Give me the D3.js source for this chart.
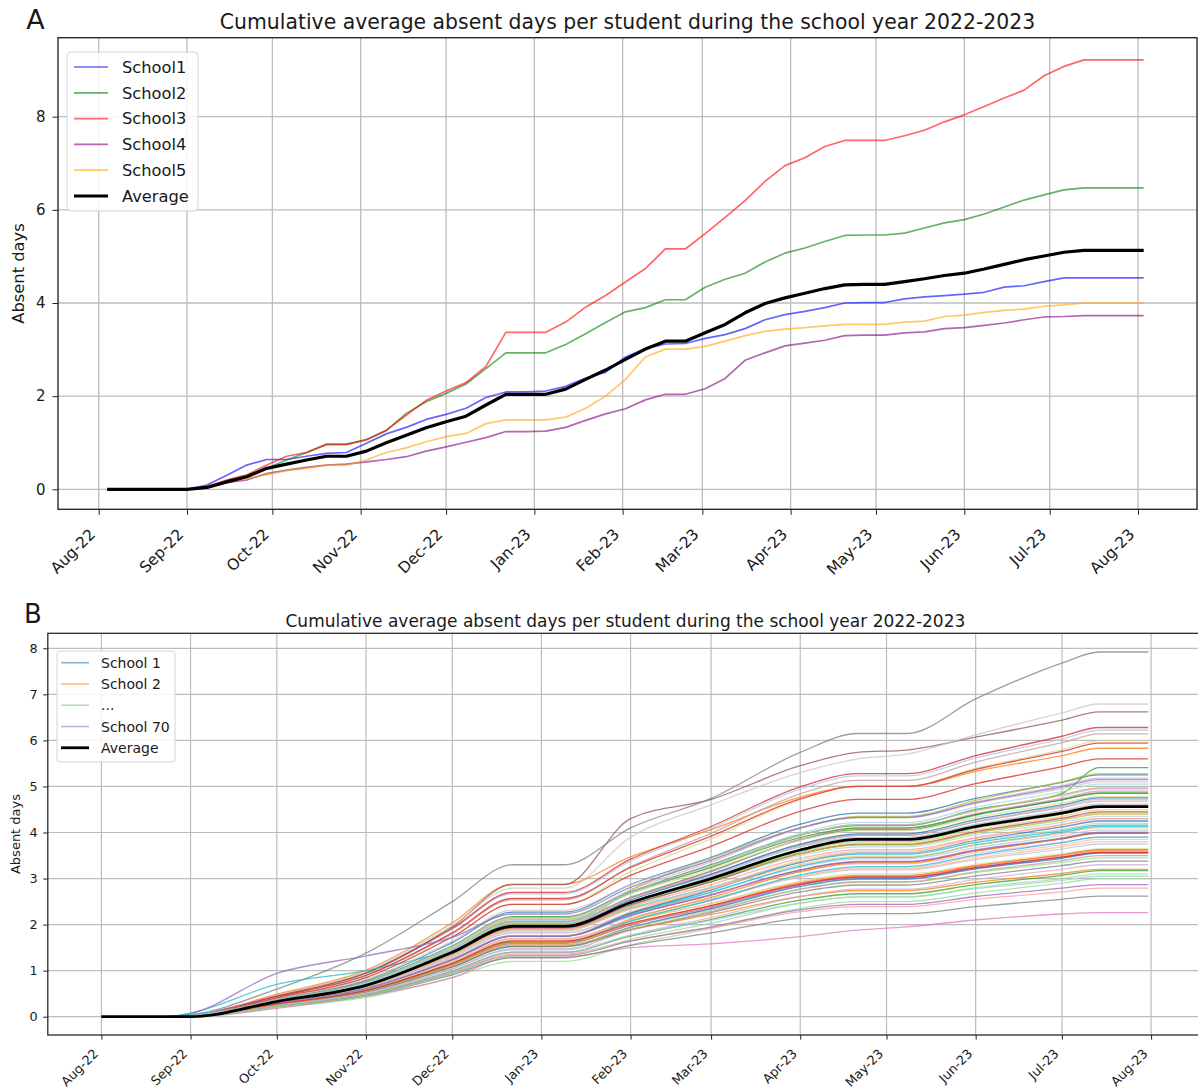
<!DOCTYPE html>
<html><head><meta charset="utf-8">
<script src="https://cdn.jsdelivr.net/npm/d3@7"></script>
<style>
body{margin:0;background:#fff}
svg{display:block}
text{font-family:"DejaVu Sans",sans-serif;fill:#1a1a1a}
</style>
</head><body>
<svg id="c" width="1198" height="1091"></svg>
<script>
// ---------------- DATA ----------------
const monthTicks = ["2022-08-01","2022-09-01","2022-10-01","2022-11-01","2022-12-01","2023-01-01","2023-02-01","2023-03-01","2023-04-01","2023-05-01","2023-06-01","2023-07-01","2023-08-01"];
const yTicksA = [0,2,4,6,8];
const yTicksB = [0,1,2,3,4,5,6,7,8];

// Panel A: weekly observations
const weeksA = ["2022-08-04","2022-08-11","2022-08-18","2022-08-25","2022-09-01","2022-09-08","2022-09-15","2022-09-22","2022-09-29","2022-10-06","2022-10-13","2022-10-20","2022-10-27","2022-11-03","2022-11-10","2022-11-17","2022-11-24","2022-12-01","2022-12-08","2022-12-15","2022-12-22","2022-12-29","2023-01-05","2023-01-12","2023-01-19","2023-01-26","2023-02-02","2023-02-09","2023-02-16","2023-02-23","2023-03-02","2023-03-09","2023-03-16","2023-03-23","2023-03-30","2023-04-06","2023-04-13","2023-04-20","2023-04-27","2023-05-04","2023-05-11","2023-05-18","2023-05-25","2023-06-01","2023-06-08","2023-06-15","2023-06-22","2023-06-29","2023-07-06","2023-07-13","2023-07-20","2023-07-27","2023-08-03"];
const namesA = ["School1","School2","School3","School4","School5","Average"];
const school1A = [0,0,0,0,0,0.09,0.3,0.52,0.64,0.64,0.71,0.77,0.79,0.99,1.19,1.33,1.5,1.61,1.74,1.97,2.09,2.09,2.11,2.21,2.39,2.51,2.84,3.02,3.12,3.13,3.24,3.32,3.45,3.64,3.75,3.82,3.9,4.0,4.01,4.01,4.09,4.13,4.16,4.19,4.23,4.34,4.37,4.46,4.54,4.54,4.54,4.54,4.54];
const school2A = [0,0,0,0,0,0.04,0.19,0.29,0.45,0.63,0.79,0.97,0.97,1.07,1.26,1.63,1.88,2.06,2.26,2.59,2.93,2.93,2.93,3.11,3.34,3.58,3.81,3.9,4.07,4.07,4.34,4.51,4.64,4.88,5.07,5.18,5.32,5.45,5.46,5.46,5.5,5.61,5.72,5.79,5.91,6.06,6.21,6.32,6.43,6.47,6.47,6.47,6.47];
const school3A = [0,0,0,0,0,0.06,0.2,0.31,0.52,0.71,0.79,0.96,0.96,1.06,1.27,1.59,1.91,2.11,2.29,2.64,3.37,3.37,3.37,3.59,3.91,4.16,4.45,4.74,5.16,5.16,5.49,5.84,6.2,6.61,6.95,7.12,7.36,7.49,7.49,7.49,7.59,7.71,7.89,8.04,8.22,8.4,8.57,8.88,9.08,9.22,9.22,9.22,9.22];
const school4A = [0,0,0,0,0,0.03,0.14,0.2,0.34,0.41,0.47,0.52,0.54,0.59,0.64,0.7,0.82,0.91,1.01,1.11,1.24,1.24,1.25,1.33,1.48,1.62,1.73,1.92,2.04,2.04,2.16,2.38,2.77,2.93,3.08,3.14,3.2,3.3,3.31,3.31,3.36,3.38,3.45,3.47,3.52,3.57,3.64,3.7,3.71,3.73,3.73,3.73,3.73];
const school5A = [0,0,0,0,0,0.03,0.16,0.24,0.31,0.4,0.45,0.52,0.52,0.63,0.79,0.89,1.02,1.13,1.2,1.41,1.49,1.49,1.49,1.55,1.74,2.0,2.36,2.84,3.01,3.01,3.07,3.18,3.3,3.39,3.44,3.47,3.51,3.54,3.54,3.54,3.59,3.61,3.71,3.74,3.8,3.84,3.87,3.93,3.96,4.0,4.0,4.0,4.0];
const averageA = [0,0,0,0,0,0.04,0.16,0.27,0.45,0.54,0.63,0.71,0.71,0.82,1.0,1.16,1.32,1.45,1.57,1.81,2.04,2.04,2.04,2.15,2.36,2.56,2.79,3.01,3.18,3.18,3.36,3.54,3.79,3.99,4.11,4.21,4.31,4.39,4.4,4.4,4.46,4.52,4.59,4.64,4.73,4.83,4.93,5.01,5.09,5.13,5.13,5.13,5.13];

// Panel B: 70 schools, values at checkpoint dates
const datesB = ["2022-08-01","2022-08-24","2022-09-01","2022-10-01","2022-11-01","2022-12-01","2022-12-22","2023-01-09","2023-02-01","2023-03-01","2023-04-01","2023-04-21","2023-05-08","2023-06-01","2023-07-01","2023-07-14","2023-07-31"];
const averageB = [0,0,0,0.33,0.68,1.4,1.96,1.96,2.48,3.0,3.62,3.85,3.85,4.13,4.42,4.56,4.56];
const schoolsB = [
[0,0,.02,.39,.79,1.61,2.27,2.27,2.87,3.46,4.18,4.42,4.42,4.74,5.09,5.25,5.25],
[0,0,.03,.45,.93,1.9,2.67,2.67,3.38,4.09,4.94,5.23,5.23,5.62,6.03,6.22,6.22],
[0,0,.02,.49,1.01,2.04,2.88,2.88,3.47,4.06,4.77,5.0,5.0,5.33,5.67,5.83,5.83],
[0,0,.01,.33,.68,1.37,1.93,1.93,2.44,2.95,3.57,3.77,3.77,4.05,4.35,4.49,4.49],
[0,0,.02,.35,.72,1.47,2.07,2.07,2.7,3.3,3.95,4.15,4.15,4.5,4.85,5.41,5.41],
[0,0,0,.2,.42,.85,1.2,1.2,1.56,1.92,2.35,2.5,2.5,2.69,2.9,3.0,3.0],
[0,0,.03,.46,.95,1.92,2.7,2.7,3.42,4.13,4.99,5.28,5.28,5.67,6.09,6.28,6.28],
[0,0,.01,.23,.48,.97,1.36,1.36,1.65,1.93,2.28,2.39,2.39,2.55,2.71,2.79,2.79],
[0,0,.01,.27,.56,1.13,1.59,1.59,1.99,2.38,2.86,3.02,3.02,3.23,3.46,3.57,3.57],
[0,0,.02,.36,.75,1.52,2.14,2.14,2.75,3.36,4.09,4.33,4.33,4.66,5.02,5.18,5.18],
[0,0,.03,.45,.95,1.95,2.87,2.87,4.3,4.72,5.45,5.74,5.79,6.07,6.44,6.62,6.62],
[0,0,.02,.43,.89,1.8,2.54,2.54,3.26,3.98,4.84,5.13,5.13,5.53,5.95,6.14,6.14],
[0,0,.01,.26,.53,1.08,1.52,1.52,1.94,2.36,2.87,3.04,3.04,3.27,3.52,3.63,3.63],
[0,0,.02,.33,.69,1.39,1.96,1.96,2.45,2.94,3.53,3.73,3.73,4.0,4.29,4.42,4.42],
[0,0,.04,.6,1.38,2.5,3.3,3.3,4.1,4.74,5.74,6.15,6.15,6.9,7.68,7.92,7.92],
[0,0,.03,.47,.98,1.98,2.79,2.79,3.9,4.6,5.3,5.6,5.7,6.12,6.6,6.79,6.79],
[0,0,.01,.32,.68,1.37,1.93,1.93,2.75,3.45,4.1,4.35,4.35,4.7,5.1,5.28,5.28],
[0,0,.02,.41,.85,1.73,2.44,2.44,3.15,3.86,4.71,5.0,5.0,5.39,5.8,5.99,5.99],
[0,0,.08,.7,1.0,1.45,1.91,1.91,2.36,2.81,3.35,3.53,3.53,3.78,4.04,4.16,4.16],
[0,0,.05,.34,.69,1.41,1.98,1.98,2.45,2.93,3.5,3.69,3.69,3.95,4.22,4.35,4.35],
[0,0,.01,.26,.54,1.09,1.54,1.54,1.94,2.34,2.83,2.99,2.99,3.21,3.44,3.55,3.55],
[0,0,.02,.31,.64,1.29,1.82,1.82,2.27,2.71,3.25,3.43,3.43,3.67,3.93,4.05,4.05],
[0,0,.01,.27,.55,1.11,1.56,1.56,1.89,2.22,2.61,2.74,2.74,2.92,3.11,3.2,3.2],
[0,0,.01,.3,.62,1.25,1.76,1.76,2.27,2.78,3.39,3.59,3.59,3.87,4.16,4.3,4.3],
[0,0,.02,.34,.71,1.43,2.02,2.02,2.59,3.16,3.84,4.06,4.06,4.38,4.71,4.86,4.86],
[0,0,0,.26,.54,1.1,1.55,1.55,1.93,2.31,2.77,2.92,2.92,3.13,3.35,3.45,3.45],
[0,0,.03,.44,.9,1.82,2.57,2.57,3.24,3.92,4.73,5.0,5.0,5.37,5.76,5.94,5.94],
[0,0,.02,.35,.72,1.47,2.07,2.07,2.58,3.08,3.69,3.89,3.89,4.17,4.46,4.6,4.6],
[0,0,0,.23,.47,.94,1.33,1.33,1.64,1.95,2.32,2.44,2.44,2.61,2.79,2.87,2.87],
[0,0,.02,.33,.67,1.36,1.92,1.92,2.48,3.04,3.71,3.94,3.94,4.24,4.57,4.72,4.72],
[0,0,.01,.3,.61,1.24,1.75,1.75,2.2,2.64,3.18,3.36,3.36,3.6,3.86,3.98,3.98],
[0,0,.02,.35,.72,1.46,2.05,2.05,2.58,3.1,3.73,3.94,3.94,4.23,4.54,4.68,4.68],
[0,0,.01,.34,.7,1.41,1.99,1.99,2.57,3.15,3.85,4.09,4.09,4.41,4.74,4.9,4.9],
[0,0,.02,.31,.64,1.29,1.82,1.82,2.24,2.65,3.15,3.32,3.32,3.55,3.79,3.9,3.9],
[0,0,.01,.26,.53,1.08,1.52,1.52,1.89,2.26,2.71,2.86,2.86,3.06,3.28,3.38,3.38],
[0,0,.03,.39,.81,1.64,2.31,2.31,2.87,3.43,4.1,4.32,4.32,4.63,4.95,5.1,5.1],
[0,0,.02,.36,.74,1.5,2.11,2.11,2.68,3.25,3.94,4.17,4.17,4.48,4.82,4.97,4.97],
[0,0,.02,.36,.75,1.52,2.14,2.14,2.67,3.2,3.83,4.04,4.04,4.33,4.64,4.78,4.78],
[0,0,.04,.3,.61,1.24,1.75,1.75,2.23,2.7,3.27,3.46,3.46,3.73,4.0,4.13,4.13],
[0,0,.03,.36,.73,1.48,2.09,2.09,2.68,3.27,3.98,4.22,4.22,4.55,4.89,5.05,5.05],
[0,0,.02,.3,.61,1.24,1.75,1.75,2.25,2.75,3.35,3.55,3.55,3.83,4.12,4.25,4.25],
[0,0,.02,.3,.62,1.25,1.76,1.76,2.16,2.56,3.03,3.19,3.19,3.41,3.64,3.75,3.75],
[0,0,.01,.28,.58,1.17,1.65,1.65,2.12,2.59,3.15,3.34,3.34,3.6,3.87,4.0,4.0],
[0,0,.01,.29,.59,1.19,1.68,1.68,2.1,2.53,3.04,3.21,3.21,3.44,3.69,3.8,3.8],
[0,0,.01,.24,.49,.99,1.4,1.4,1.75,2.11,2.53,2.67,2.67,2.87,3.07,3.17,3.17],
[0,0,.01,.32,.65,1.32,1.86,1.86,2.4,2.94,3.58,3.8,3.8,4.09,4.4,4.55,4.55],
[0,0,.02,.41,.85,1.73,2.44,2.44,3.07,3.7,4.46,4.72,4.72,5.06,5.43,5.6,5.6],
[0,0,.01,.29,.6,1.21,1.7,1.7,2.08,2.46,2.92,3.07,3.07,3.28,3.5,3.6,3.6],
[0,0,.07,.94,1.32,1.72,2.23,2.23,2.81,3.4,4.1,4.33,4.33,4.65,4.99,5.15,5.15],
[0,0,.01,.24,.49,.99,1.39,1.39,1.77,2.15,2.61,2.77,2.77,2.98,3.2,3.3,3.3],
[0,0,.02,.33,.67,1.36,1.92,1.92,2.43,2.93,3.54,3.74,3.74,4.02,4.31,4.45,4.45],
[0,0,.01,.25,.51,1.04,1.47,1.47,1.88,2.28,2.77,2.93,2.93,3.15,3.39,3.5,3.5],
[0,0,0,.18,.45,.85,1.3,1.3,1.5,1.58,1.74,1.88,1.95,2.1,2.23,2.26,2.26],
[0,0,.01,.28,.58,1.17,1.65,1.65,2.09,2.53,3.06,3.23,3.23,3.48,3.73,3.85,3.85],
[0,0,.01,.22,.45,.91,1.28,1.28,1.55,1.82,2.14,2.24,2.24,2.39,2.55,2.62,2.62],
[0,0,.02,.32,.66,1.33,1.88,1.88,2.34,2.81,3.36,3.55,3.55,3.81,4.07,4.2,4.2],
[0,0,.02,.34,.7,1.42,2.0,2.0,2.48,2.96,3.54,3.73,3.73,3.99,4.27,4.4,4.4],
[0,0,.01,.28,.58,1.19,1.67,1.67,2.07,2.46,2.94,3.1,3.1,3.31,3.54,3.65,3.65],
[0,0,.05,.28,.57,1.15,1.62,1.62,2.08,2.53,3.08,3.26,3.26,3.51,3.78,3.9,3.9],
[0,0,.03,.35,.71,1.44,2.03,2.03,2.55,3.07,3.69,3.89,3.89,4.18,4.48,4.62,4.62],
[0,0,.02,.34,.69,1.41,1.98,1.98,2.53,3.09,3.75,3.97,3.97,4.28,4.6,4.75,4.75],
[0,0,.01,.25,.51,1.03,1.45,1.45,1.77,2.09,2.47,2.6,2.6,2.78,2.96,3.05,3.05],
[0,0,.01,.27,.56,1.14,1.61,1.61,2.01,2.41,2.9,3.06,3.06,3.28,3.51,3.62,3.62],
[0,0,.02,.32,.66,1.34,1.89,1.89,2.33,2.77,3.3,3.48,3.48,3.72,3.98,4.1,4.1],
[0,0,.02,.37,.76,1.54,2.17,2.17,2.71,3.24,3.89,4.1,4.1,4.39,4.71,4.85,4.85],
[0,0,0,.22,.46,.94,1.32,1.32,1.68,2.03,2.46,2.6,2.6,2.8,3.0,3.1,3.1],
[0,0,.01,.28,.57,1.16,1.64,1.64,2.03,2.41,2.88,3.03,3.03,3.24,3.47,3.57,3.57],
[0,0,.02,.32,.67,1.36,1.91,1.91,2.39,2.87,3.44,3.63,3.63,3.89,4.17,4.3,4.3],
[0,0,.01,.3,.61,1.24,1.75,1.75,2.2,2.65,3.19,3.37,3.37,3.62,3.88,4.0,4.0],
[0,0,.02,.37,.75,1.53,2.15,2.15,2.71,3.27,3.94,4.17,4.17,4.47,4.8,4.95,4.95]
];
const legendB = ["School 1","School 2","...","School 70","Average"];
const titleText = "Cumulative average absent days per student during the school year 2022-2023";

// ---------------- STYLE ----------------
const colorsA = ["rgba(0,0,255,0.6)","rgba(0,128,0,0.6)","rgba(255,0,0,0.6)","rgba(128,0,128,0.6)","rgba(255,165,0,0.6)","#000"];
const tab20 = ["#1f77b4","#aec7e8","#ff7f0e","#ffbb78","#2ca02c","#98df8a","#d62728","#ff9896","#9467bd","#c5b0d5","#8c564b","#c49c94","#e377c2","#f7b6d2","#7f7f7f","#c7c7c7","#bcbd22","#dbdb8d","#17becf","#9edae5"];
const legendColorsB = ["rgba(31,119,180,0.55)","rgba(255,127,14,0.55)","rgba(44,160,44,0.35)","rgba(148,103,189,0.55)","#000"];

const svg = d3.select("#c");
const parse = d3.utcParse("%Y-%m-%d");
const fmt = d3.utcFormat("%b-%y");
const months = monthTicks.map(parse);

function panel(o) {
  const g = svg.append("g");
  const cid = o.id + "-clip";
  svg.append("clipPath").attr("id", cid).append("rect")
    .attr("x", o.left).attr("y", o.top).attr("width", o.right - o.left).attr("height", o.bottom - o.top);
  const grid = g.append("g").attr("clip-path", `url(#${cid})`);
  grid.selectAll("line.vg").data(months).join("line").attr("class","vg")
    .attr("x1", d => o.x(d)).attr("x2", d => o.x(d)).attr("y1", o.top).attr("y2", o.bottom)
    .attr("stroke", "#bdbdbd").attr("stroke-width", o.gridW);
  grid.selectAll("line.hg").data(o.yTicks).join("line").attr("class","hg")
    .attr("x1", o.left).attr("x2", o.right).attr("y1", d => o.y(d)).attr("y2", d => o.y(d))
    .attr("stroke", "#bdbdbd").attr("stroke-width", o.gridW);
  const xa = g.append("g").attr("transform", `translate(0,${o.bottom})`)
    .call(d3.axisBottom(o.x).tickValues(months).tickFormat(fmt).tickSize(o.tick).tickSizeOuter(0));
  xa.select(".domain").remove();
  xa.selectAll(".tick line").attr("stroke", "#222").attr("stroke-width", 1);
  xa.selectAll(".tick text").attr("x", 0).attr("y", 0).attr("dy", 0)
    .attr("text-anchor", "end").attr("font-size", o.tickFont).attr("fill", "#1a1a1a")
    .attr("font-family", "DejaVu Sans")
    .attr("transform", `translate(${o.lx},${o.ly}) rotate(-45)`);
  const ya = g.append("g").attr("transform", `translate(${o.left},0)`)
    .call(d3.axisLeft(o.y).tickValues(o.yTicks).tickFormat(d3.format("d")).tickSize(o.tick).tickPadding(o.ypad).tickSizeOuter(0));
  ya.select(".domain").remove();
  ya.selectAll(".tick line").attr("stroke", "#222").attr("stroke-width", 1);
  ya.selectAll(".tick text").attr("font-size", o.yFont).attr("fill", "#1a1a1a").attr("font-family", "DejaVu Sans");
  return {g, cid};
}

// ---------------- PANEL A ----------------
const A = {id:"A", left:58, right:1197, top:37.7, bottom:509.3, gridW:1.3, tick:5.5, tickFont:"15.5px", yFont:"15px", ypad:7, lx:-3, ly:26,
  x: d3.scaleUtc().domain([parse("2022-08-01"), parse("2023-08-01")]).range([98.7, 1138]),
  y: d3.scaleLinear().domain([0, 8]).range([489.3, 116.7]), yTicks: yTicksA};
const pa = panel(A);
const seriesA = [school1A, school2A, school3A, school4A, school5A, averageA];
const lineA = d3.line().x((d,i) => A.x(parse(weeksA[i]))).y(d => A.y(d));
const la = pa.g.append("g").attr("clip-path", `url(#${pa.cid})`);
seriesA.forEach((s, i) => {
  la.append("path").attr("d", lineA(s)).attr("fill", "none")
    .attr("stroke", colorsA[i]).attr("stroke-width", i === 5 ? 3.2 : 1.7).attr("stroke-linejoin", "round");
});
pa.g.append("rect").attr("x", A.left).attr("y", A.top).attr("width", A.right - A.left).attr("height", A.bottom - A.top)
  .attr("fill", "none").attr("stroke", "#2a2a2a").attr("stroke-width", 1.4);
const lgA = pa.g.append("g");
lgA.append("rect").attr("x", 67).attr("y", 52).attr("width", 131).attr("height", 159).attr("rx", 4)
  .attr("fill", "#fff").attr("fill-opacity", 0.85).attr("stroke", "#d4d4d4");
namesA.forEach((n, i) => {
  const yy = 67 + i * 25.8;
  lgA.append("line").attr("x1", 74).attr("x2", 108).attr("y1", yy).attr("y2", yy)
    .attr("stroke", colorsA[i]).attr("stroke-width", i === 5 ? 3.2 : 1.7);
  lgA.append("text").attr("x", 122).attr("y", yy).attr("dy", "0.36em").attr("font-size", "16.3px").text(n);
});
svg.append("text").attr("x", 627.5).attr("y", 28.5).attr("text-anchor", "middle").attr("font-size", "20.4px").text(titleText);
svg.append("text").attr("transform", "translate(18,273.5) rotate(-90)").attr("text-anchor", "middle")
  .attr("dy", "0.36em").attr("font-size", "16.3px").text("Absent days");
svg.append("text").attr("x", 35.4).attr("y", 29).attr("text-anchor", "middle").attr("font-size", "27px").text("A");

// ---------------- PANEL B ----------------
const B = {id:"B", left:47.8, right:1203, top:633.3, bottom:1035, gridW:1.2, tick:4.6, tickFont:"12.8px", yFont:"12.8px", ypad:5.5, lx:-3, ly:19.5,
  x: d3.scaleUtc().domain([parse("2022-08-01"), parse("2023-08-01")]).range([101.4, 1151.1]),
  y: d3.scaleLinear().domain([0, 8]).range([1016.7, 648.3]), yTicks: yTicksB};
const pb = panel(B);
const lineB = d3.line().curve(d3.curveMonotoneX).x((d,i) => B.x(parse(datesB[i]))).y(d => B.y(d));
const lb = pb.g.append("g").attr("clip-path", `url(#${pb.cid})`);
schoolsB.forEach((s, i) => {
  lb.append("path").attr("d", lineB(s)).attr("fill", "none")
    .attr("stroke", tab20[i % 20]).attr("stroke-opacity", 0.75).attr("stroke-width", 1.3).attr("stroke-linejoin", "round");
});
lb.append("path").attr("d", lineB(averageB)).attr("fill", "none").attr("stroke", "#000").attr("stroke-width", 2.8).attr("stroke-linejoin", "round");
pb.g.append("rect").attr("x", B.left).attr("y", B.top).attr("width", B.right - B.left).attr("height", B.bottom - B.top)
  .attr("fill", "none").attr("stroke", "#2a2a2a").attr("stroke-width", 1.3);
const lgB = pb.g.append("g");
lgB.append("rect").attr("x", 57).attr("y", 651).attr("width", 118).attr("height", 111).attr("rx", 3)
  .attr("fill", "#fff").attr("fill-opacity", 0.85).attr("stroke", "#d4d4d4");
legendB.forEach((n, i) => {
  const yy = 662.7 + i * 21.27;
  lgB.append("line").attr("x1", 61).attr("x2", 89).attr("y1", yy).attr("y2", yy)
    .attr("stroke", legendColorsB[i]).attr("stroke-width", i === 4 ? 2.8 : 1.6);
  lgB.append("text").attr("x", 101).attr("y", yy).attr("dy", "0.36em").attr("font-size", "14px").text(n);
});
svg.append("text").attr("x", 625.4).attr("y", 626.5).attr("text-anchor", "middle").attr("font-size", "17px").text(titleText);
svg.append("text").attr("transform", "translate(15,834) rotate(-90)").attr("text-anchor", "middle")
  .attr("dy", "0.36em").attr("font-size", "13px").text("Absent days");
svg.append("text").attr("x", 33).attr("y", 622.7).attr("text-anchor", "middle").attr("font-size", "26px").text("B");
</script>
</body></html>
